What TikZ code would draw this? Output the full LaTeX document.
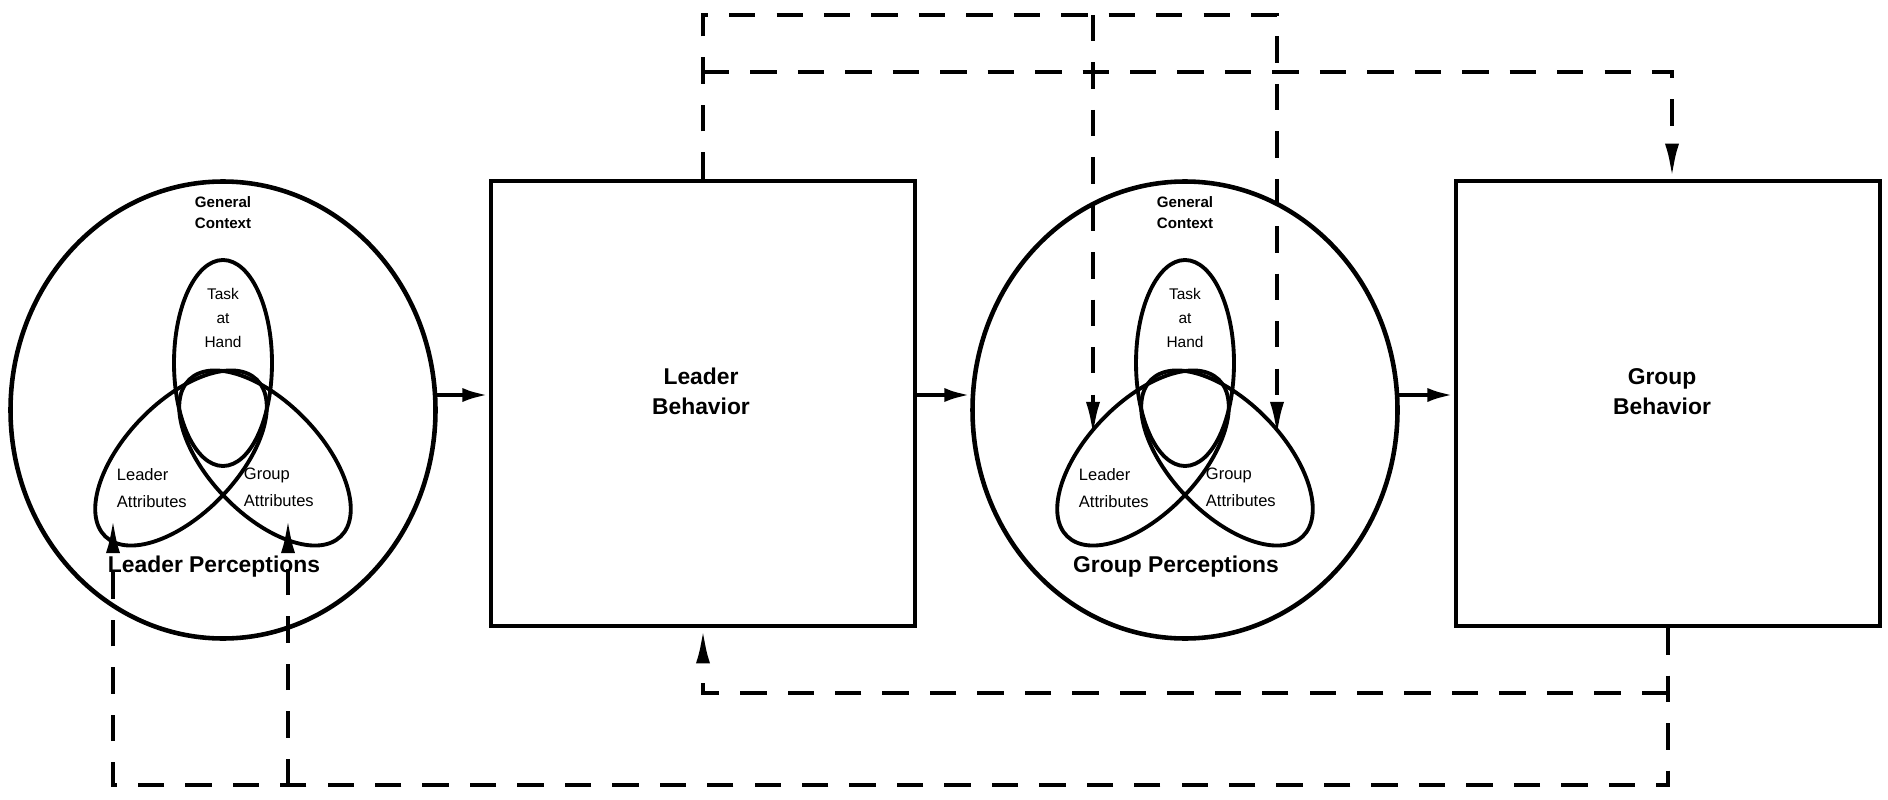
\documentclass[tikz,border=0pt]{standalone}
\usepackage{fontspec}
\setmainfont{Liberation Sans}
\usetikzlibrary{arrows.meta,shapes.geometric,positioning}

\tikzset{
  flow/.style={-{Latex[length=7.5pt,width=4pt]}},
  fb/.style={dash pattern=on 7.5pt off 6pt,-{Latex[length=10pt,width=4pt]}},
  persp/.style={draw,ellipse,minimum width=4.25cm,minimum height=4.57cm,inner sep=0pt},
  behav/.style={draw,rectangle,minimum width=4.24cm,minimum height=4.45cm,inner sep=0pt},
  bigtxt/.style={font=\bfseries\fontsize{6.5}{8.5}\selectfont,align=center,inner sep=0pt},
  ctxtxt/.style={font=\bfseries\fontsize{4.3}{6}\selectfont,align=center,inner sep=0pt},
  tasktxt/.style={font=\fontsize{4.4}{6.7}\selectfont,align=center,inner sep=0pt},
  attrtxt/.style={font=\fontsize{4.7}{7.7}\selectfont,align=left,inner sep=0pt,anchor=west}
}

\begin{document}
\begin{tikzpicture}[line width=1.3pt]
      \useasboundingbox (0,0) rectangle (18.88,7.99);

      \node[persp] (lp) at (2.23,3.89) {};
      \node[behav] (lb) at (7.03,3.955) {};
      \node[persp] (gp) at (11.85,3.89) {};
      \node[behav] (gb) at (16.68,3.955) {};

      \node[bigtxt] (lb-text) at (7.01,4.08) {Leader\\Behavior};
      \node[bigtxt] (gb-text) at (16.62,4.07) {Group\\Behavior};

      % perception circles
      \foreach \c/\who in {lp/Leader,gp/Group}{
        \begin{scope}[shift={(\c.center)},line width=1.1pt]
          \draw (0,0.47) ellipse (0.49 and 1.03);
          \draw[rotate around={46:(-0.42,-0.48)}] (-0.42,-0.48) ellipse (1.09 and 0.56);
          \draw[rotate around={-46:(0.42,-0.48)}] (0.42,-0.48) ellipse (1.09 and 0.56);
          \node[ctxtxt] (\c-context) at (0,1.97) {General\\Context};
          \node[tasktxt] (\c-task) at (0,0.92) {Task\\at\\Hand};
          \node[attrtxt] (\c-la) at (-1.08,-0.785) {Leader\\Attributes};
          \node[attrtxt] (\c-ga) at (0.19,-0.77) {Group\\Attributes};
          \node[bigtxt] (\c-name) at (-0.09,-1.57) {\who{} Perceptions};
        \end{scope}
      }

      % forward arrows
      \draw[flow] (lp.4) -- (lp.4 -| lb.west);
      \draw[flow] (gp.176 -| lb.east) -- (gp.176);
      \draw[flow] (gp.4) -- (gp.4 -| gb.west);

      % feedback targets
      \coordinate (lpL) at ([shift={(-1.10,-1.08)}]lp.center);
      \coordinate (lpG) at ([shift={(0.65,-1.08)}]lp.center);
      \coordinate (gpL) at ([shift={(-0.92,-0.27)}]gp.center);
      \coordinate (gpG) at ([shift={(0.92,-0.27)}]gp.center);
      \coordinate (upper) at (0,7.84);
      \coordinate (mid) at (0,7.27);
      \coordinate (low) at (0,1.06);
      \coordinate (bottom) at (0,0.14);

      % dashed lines from leader behavior
      \draw[fb] (lb.north) -- (lb.north |- upper) -| (gpG);
      \draw[fb] (gpL |- upper) -- (gpL);
      \draw[fb] (lb.north |- mid) -| ([xshift=0.04cm]gb.north);

      % dashed lines from group behavior
      \draw[fb] (gb.south) -- (gb.south |- bottom) -| (lpL);
      \draw[fb] (lpG |- bottom) -- (lpG);
      \draw[fb] (gb.south |- low) -| (lb.south);
    \end{tikzpicture}
\end{document}
